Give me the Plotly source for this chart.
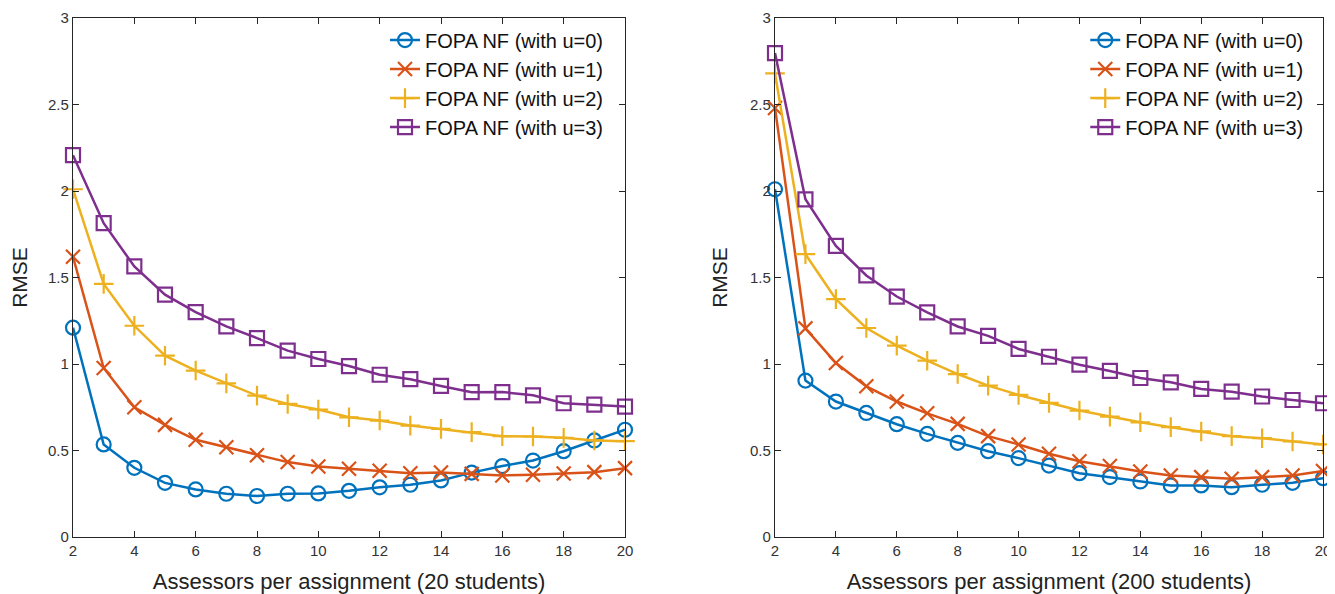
import plotly.graph_objects as go

x_vals = list(range(2, 21))

# 20 students
rmse20_u0 = [1.21, 0.535, 0.40, 0.313, 0.275, 0.25, 0.237, 0.25, 0.252, 0.267, 0.287, 0.302, 0.327, 0.372, 0.41, 0.442, 0.496, 0.558, 0.62]
rmse20_u1 = [1.62, 0.977, 0.75, 0.648, 0.562, 0.519, 0.473, 0.433, 0.408, 0.394, 0.383, 0.369, 0.373, 0.365, 0.356, 0.36, 0.367, 0.375, 0.398]
rmse20_u2 = [2.01, 1.463, 1.221, 1.048, 0.962, 0.888, 0.817, 0.769, 0.737, 0.692, 0.673, 0.644, 0.625, 0.606, 0.583, 0.581, 0.573, 0.558, 0.554]
rmse20_u3 = [2.207, 1.814, 1.564, 1.401, 1.30, 1.217, 1.15, 1.077, 1.029, 0.988, 0.938, 0.912, 0.873, 0.837, 0.838, 0.819, 0.773, 0.765, 0.754]

# 200 students
rmse200_u0 = [2.01, 0.904, 0.783, 0.717, 0.652, 0.596, 0.544, 0.496, 0.456, 0.413, 0.369, 0.346, 0.321, 0.298, 0.298, 0.288, 0.302, 0.313, 0.34]
rmse200_u1 = [2.48, 1.206, 1.006, 0.871, 0.783, 0.715, 0.654, 0.583, 0.535, 0.481, 0.438, 0.41, 0.379, 0.356, 0.346, 0.337, 0.346, 0.356, 0.381]
rmse200_u2 = [2.68, 1.635, 1.375, 1.208, 1.106, 1.019, 0.942, 0.875, 0.821, 0.775, 0.731, 0.696, 0.663, 0.635, 0.61, 0.583, 0.571, 0.552, 0.535]
rmse200_u3 = [2.797, 1.952, 1.683, 1.512, 1.39, 1.298, 1.217, 1.163, 1.087, 1.042, 0.996, 0.96, 0.919, 0.894, 0.856, 0.84, 0.812, 0.792, 0.773]

series_names = ["FOPA NF (with u=0)", "FOPA NF (with u=1)", "FOPA NF (with u=2)", "FOPA NF (with u=3)"]
colors = ["#0072BD", "#D95319", "#EDB120", "#7E2F8E"]
symbols = ["circle-open", "x-thin-open", "cross-thin-open", "square-open"]
x_titles = ["Assessors per assignment (20 students)", "Assessors per assignment (200 students)"]
y_tickvals = [0, 0.5, 1, 1.5, 2, 2.5, 3]
y_ticktext = ["0", "0.5", "1", "1.5", "2", "2.5", "3"]

left_data = [rmse20_u0, rmse20_u1, rmse20_u2, rmse20_u3]
right_data = [rmse200_u0, rmse200_u1, rmse200_u2, rmse200_u3]

FONT = "Liberation Sans, Arial, sans-serif"

fig = go.Figure()
for data, xa, ya, lg in [(left_data, "x", "y", "legend"), (right_data, "x2", "y2", "legend2")]:
    for i, ys in enumerate(data):
        fig.add_trace(go.Scatter(
            x=x_vals, y=ys, name=series_names[i], mode="lines+markers",
            line=dict(color=colors[i], width=2.5),
            marker=dict(symbol=symbols[i], size=14, color=colors[i],
                        line=dict(width=2.2, color=colors[i])),
            xaxis=xa, yaxis=ya, legend=lg, cliponaxis=False))

axis_common = dict(
    showline=True, linecolor="#262626", linewidth=1.2, mirror="ticks",
    ticks="inside", ticklen=6, tickcolor="#262626", showgrid=False, zeroline=False,
    automargin=False,
    tickfont=dict(family=FONT, size=15, color="#333333"),
)
xcommon = dict(axis_common, range=[2, 20], tickvals=list(range(2, 21, 2)),
               title_font=dict(family=FONT, size=22, color="#222222"),
               title_standoff=15)
ycommon = dict(axis_common, range=[0, 3], tickvals=y_tickvals, ticktext=y_ticktext,
               title_text="RMSE",
               title_font=dict(family=FONT, size=21, color="#222222"),
               title_standoff=16)

legend_common = dict(
    font=dict(family=FONT, size=20, color="#111111"),
    bgcolor="rgba(255,255,255,0)", borderwidth=0, yanchor="top", xanchor="right",
    itemsizing="trace", tracegroupgap=0,
)

fig.update_layout(
    width=1335, height=594,
    margin=dict(l=65, r=20, t=10, b=65),
    paper_bgcolor="white", plot_bgcolor="white",
    showlegend=True,
    xaxis=dict(xcommon, domain=[0, 0.4416], title_text=x_titles[0], anchor="y"),
    yaxis=dict(ycommon, domain=[0, 1], anchor="x"),
    xaxis2=dict(xcommon, domain=[0.5616, 1.0], title_text=x_titles[1], anchor="y2"),
    yaxis2=dict(ycommon, domain=[0, 1], anchor="x2"),
    legend=dict(legend_common, x=0.4288, y=0.995),
    legend2=dict(legend_common, x=0.989, y=0.995),
)

fig.write_html("out.html")
